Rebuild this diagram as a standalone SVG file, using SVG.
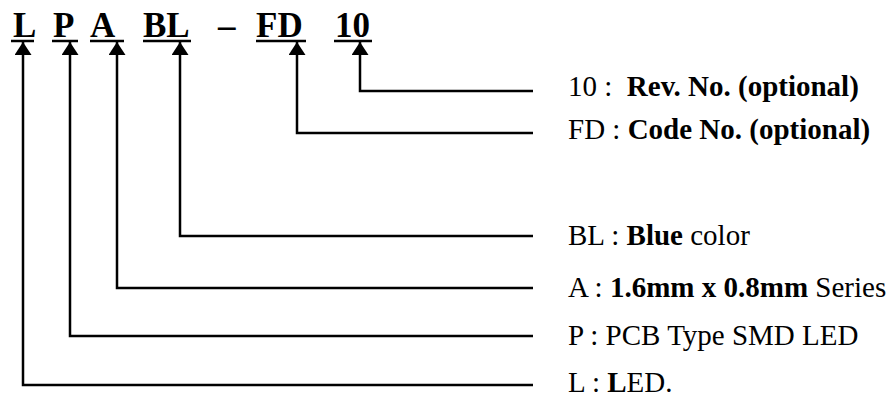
<svg xmlns="http://www.w3.org/2000/svg" width="893" height="399" viewBox="0 0 893 399">
<style>
.code{font-family:"Liberation Serif","Times New Roman",serif;font-weight:bold;font-size:35px;fill:#000}
.lbl{font-family:"Liberation Serif","Times New Roman",serif;font-size:29px;fill:#000;white-space:pre}
.b{font-weight:bold}
.ul{stroke:#000;stroke-width:2.5;fill:none}
.con{stroke:#000;stroke-width:2.5;fill:none;marker-start:url(#arr)}
</style>
<defs>
<marker id="arr" markerUnits="userSpaceOnUse" viewBox="0 0 13 17" markerWidth="13" markerHeight="17" refX="13" refY="8.5" orient="auto-start-reverse">
<path d="M0,0 L13,8.5 L0,17 z" fill="#000"/>
</marker>
</defs>
<rect width="893" height="399" fill="#fff"/>
<g id="code">
<g id="code-L"><text class="code" x="13" y="37">L</text><line class="ul" x1="11" y1="41" x2="34" y2="41"/></g>
<g id="code-P"><text class="code" x="53" y="37">P</text><line class="ul" x1="52" y1="41" x2="78" y2="41"/></g>
<g id="code-A"><text class="code" x="90" y="37">A</text><line class="ul" x1="90" y1="41" x2="124" y2="41"/></g>
<g id="code-BL"><text class="code" x="143" y="37">BL</text><line class="ul" x1="143" y1="41" x2="191" y2="41"/></g>
<g id="code-dash"><text class="code" x="218" y="37">–</text></g>
<g id="code-FD"><text class="code" x="256" y="37">FD</text><line class="ul" x1="256" y1="41" x2="306" y2="41"/></g>
<g id="code-10"><text class="code" x="335" y="37">10</text><line class="ul" x1="334" y1="41" x2="372" y2="41"/></g>
</g>
<g id="connectors">
<path class="con" d="M360,42 V91 H533"/>
<path class="con" d="M297,42 V133 H533"/>
<path class="con" d="M180,42 V236 H533"/>
<path class="con" d="M117,42 V288 H533"/>
<path class="con" d="M70,42 V336 H533"/>
<path class="con" d="M23,42 V385 H533"/>
</g>
<g id="label-10"><text class="lbl" x="568" y="96">10 :  <tspan class="b">Rev. No. (optional)</tspan></text></g>
<g id="label-FD"><text class="lbl" x="568" y="139">FD : <tspan class="b">Code No. (optional)</tspan></text></g>
<g id="label-BL"><text class="lbl" x="568" y="245">BL : <tspan class="b">Blue</tspan> color</text></g>
<g id="label-A"><text class="lbl" x="568" y="297">A : <tspan class="b">1.6mm x 0.8mm</tspan> Series</text></g>
<g id="label-P"><text class="lbl" x="568" y="345">P : PCB Type SMD LED</text></g>
<g id="label-L"><text class="lbl" x="568" y="392">L : <tspan class="b">L</tspan>ED.</text></g>
</svg>
